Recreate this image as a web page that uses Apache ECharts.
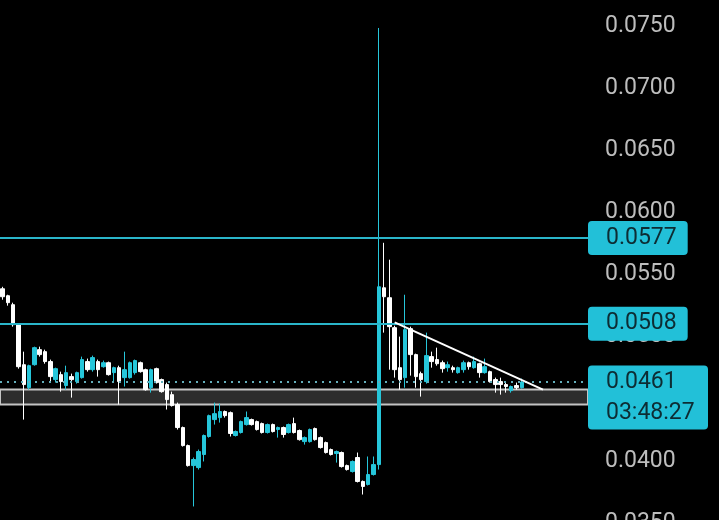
<!DOCTYPE html>
<html>
<head>
<meta charset="utf-8">
<script src="https://cdn.jsdelivr.net/npm/echarts@6/dist/echarts.min.js"></script>
<style>
  html, body { margin: 0; padding: 0; background: #000; }
  #chart { width: 719px; height: 520px; }
</style>
</head>
<body>
<div id="chart"></div>
<script>
// candles (open / close / low / high)
const opens = [
  0.05361, 0.05305, 0.05233, 0.05072, 0.04750, 0.04565, 0.04750, 0.04871, 0.04855, 0.04775,
  0.04630, 0.04670, 0.04582, 0.04654, 0.04614, 0.04646, 0.04775, 0.04710, 0.04775, 0.04734,
  0.04766, 0.04686, 0.04726, 0.04646, 0.04646, 0.04686, 0.04766, 0.04710, 0.04565, 0.04718,
  0.04630, 0.04590, 0.04509, 0.04429, 0.04244, 0.04099, 0.03938, 0.03922, 0.04027, 0.04172,
  0.04308, 0.04324, 0.04373, 0.04364, 0.04180, 0.04204, 0.04268, 0.04308, 0.04292, 0.04276,
  0.04204, 0.04268, 0.04228, 0.04244, 0.04204, 0.04276, 0.04220, 0.04131, 0.04131, 0.04236,
  0.04163, 0.04123, 0.04067, 0.04035, 0.04043, 0.03938, 0.03890, 0.04003, 0.03810, 0.03786,
  0.03866, 0.03946, 0.05369, 0.05289, 0.05048, 0.04726, 0.04646, 0.05040, 0.04831, 0.04678,
  0.04614, 0.04815, 0.04791, 0.04766, 0.04726, 0.04726, 0.04686, 0.04710, 0.04766, 0.04726,
  0.04758, 0.04686, 0.04694, 0.04630, 0.04614, 0.04590, 0.04541, 0.04582, 0.04565
];
const closes = [
  0.05297, 0.05249, 0.05072, 0.04734, 0.04590, 0.04742, 0.04887, 0.04831, 0.04775, 0.04654,
  0.04718, 0.04614, 0.04686, 0.04630, 0.04686, 0.04791, 0.04710, 0.04807, 0.04710, 0.04766,
  0.04670, 0.04726, 0.04614, 0.04710, 0.04766, 0.04783, 0.04694, 0.04549, 0.04710, 0.04606,
  0.04533, 0.04469, 0.04421, 0.04244, 0.04099, 0.03938, 0.03987, 0.04051, 0.04180, 0.04340,
  0.04356, 0.04373, 0.04340, 0.04196, 0.04212, 0.04292, 0.04324, 0.04268, 0.04228, 0.04204,
  0.04268, 0.04212, 0.04244, 0.04188, 0.04268, 0.04204, 0.04147, 0.04163, 0.04228, 0.04147,
  0.04083, 0.04043, 0.04027, 0.04051, 0.03930, 0.03906, 0.03971, 0.03810, 0.03770, 0.03866,
  0.03946, 0.05377, 0.05297, 0.05056, 0.04710, 0.04630, 0.05032, 0.04831, 0.04654, 0.04630,
  0.04823, 0.04775, 0.04758, 0.04718, 0.04750, 0.04710, 0.04726, 0.04766, 0.04734, 0.04775,
  0.04686, 0.04734, 0.04614, 0.04590, 0.04590, 0.04574, 0.04574, 0.04565, 0.04610
];
const lows = [
  0.05273, 0.05225, 0.05056, 0.04718, 0.04308, 0.04549, 0.04742, 0.04815, 0.04758, 0.04614,
  0.04606, 0.04533, 0.04549, 0.04485, 0.04598, 0.04638, 0.04694, 0.04694, 0.04654, 0.04726,
  0.04662, 0.04614, 0.04429, 0.04574, 0.04638, 0.04670, 0.04686, 0.04541, 0.04525, 0.04598,
  0.04525, 0.04389, 0.04413, 0.04228, 0.04091, 0.03930, 0.03609, 0.03906, 0.03971, 0.04163,
  0.04268, 0.04284, 0.04324, 0.04172, 0.04172, 0.04196, 0.04260, 0.04260, 0.04220, 0.04196,
  0.04196, 0.04204, 0.04163, 0.04163, 0.04196, 0.04196, 0.04139, 0.04107, 0.04123, 0.04139,
  0.04075, 0.04035, 0.04019, 0.03962, 0.03922, 0.03898, 0.03882, 0.03802, 0.03705, 0.03778,
  0.03858, 0.03906, 0.05008, 0.04710, 0.04646, 0.04549, 0.04565, 0.04662, 0.04565, 0.04493,
  0.04598, 0.04726, 0.04742, 0.04686, 0.04694, 0.04686, 0.04678, 0.04686, 0.04710, 0.04718,
  0.04646, 0.04678, 0.04606, 0.04525, 0.04509, 0.04525, 0.04525, 0.04549, 0.04557
];
const highs = [
  0.05377, 0.05313, 0.05249, 0.05080, 0.04855, 0.04750, 0.04895, 0.04895, 0.04871, 0.04791,
  0.04726, 0.04694, 0.04742, 0.04678, 0.04694, 0.04815, 0.04799, 0.04823, 0.04791, 0.04783,
  0.04775, 0.04734, 0.04742, 0.04855, 0.04775, 0.04791, 0.04775, 0.04718, 0.04718, 0.04726,
  0.04638, 0.04606, 0.04533, 0.04445, 0.04252, 0.04107, 0.04003, 0.04067, 0.04188, 0.04348,
  0.04445, 0.04437, 0.04381, 0.04373, 0.04220, 0.04300, 0.04373, 0.04316, 0.04300, 0.04284,
  0.04276, 0.04276, 0.04252, 0.04252, 0.04276, 0.04324, 0.04228, 0.04172, 0.04236, 0.04244,
  0.04172, 0.04131, 0.04075, 0.04059, 0.04051, 0.03946, 0.03979, 0.04043, 0.03818, 0.04011,
  0.04011, 0.07460, 0.05731, 0.05595, 0.05064, 0.04976, 0.05313, 0.05056, 0.04839, 0.04694,
  0.05008, 0.04855, 0.04887, 0.04783, 0.04775, 0.04742, 0.04734, 0.04783, 0.04775, 0.04815,
  0.04766, 0.04799, 0.04702, 0.04646, 0.04646, 0.04614, 0.04582, 0.04606, 0.04638
];

// empty slots on the right after the last candle
const slotCount = 111;
const categories = [];
for (let i = 0; i < slotCount; i++) {
  categories.push(String(i));
}

const yTicks = { min: 0.035, max: 0.075, step: 0.005 };
const levels = [0.0577, 0.0508];
const lastPrice = 0.0461;
const countdown = '03:48:27';
const zone = [0.0455, 0.0443];
const trend = [[74, 0.0509], [102, 0.0455]];

const UP = '#26c6da';
const DOWN = '#ffffff';
const LINE = '#2ab5ca';
const BOX = '#22c0d8';
const BOX_TEXT = '#0d2c33';
const FONT = 'Roboto';

const candles = opens.map((o, i) => [o, closes[i], lows[i], highs[i]]);

const levelLabel = {
  show: true,
  position: 'end',
  distance: 0,
  formatter: p => p.value.toFixed(4),
  backgroundColor: BOX,
  color: BOX_TEXT,
  fontFamily: FONT,
  fontSize: 23,
  lineHeight: 26,
  padding: [5, 11, 3, 18],
  borderRadius: 4
};

const priceTag = {
  backgroundColor: BOX,
  color: BOX_TEXT,
  fontFamily: FONT,
  fontSize: 23,
  lineHeight: 31,
  width: 90,
  padding: [5, 12, 5, 18]
};

const chart = echarts.init(document.getElementById('chart'));
chart.setOption({
  backgroundColor: '#000',
  animation: false,
  grid: { left: 0, right: 131, top: 23, bottom: 0, outerBoundsMode: 'none', containLabel: false },
  xAxis: {
    type: 'category',
    data: categories,
    boundaryGap: true,
    show: false
  },
  yAxis: {
    type: 'value',
    position: 'right',
    min: yTicks.min,
    max: yTicks.max,
    interval: yTicks.step,
    scale: true,
    axisLine: { show: false },
    axisTick: { show: false },
    splitLine: { show: false },
    axisLabel: {
      color: '#bdbdbd',
      fontFamily: FONT,
      fontSize: 23,
      margin: 17,
      verticalAlign: 'top',
      lineHeight: 6,
      formatter: v => v.toFixed(4)
    }
  },
  series: [
    {
      type: 'candlestick',
      data: candles,
      barWidth: 4,
      itemStyle: {
        color: UP,
        color0: DOWN,
        borderColor: UP,
        borderColor0: DOWN,
        borderWidth: 1
      },
      markArea: {
        silent: true,
        itemStyle: {
          color: '#2d2d2d',
          borderColor: '#c4c4c4',
          borderWidth: 2
        },
        data: [[{ yAxis: zone[0] }, { yAxis: zone[1] }]]
      },
      markLine: {
        silent: true,
        symbol: 'none',
        precision: 4,
        data: [
          {
            yAxis: levels[0],
            lineStyle: { color: LINE, width: 2, type: 'solid' },
            label: levelLabel
          },
          {
            yAxis: levels[1],
            lineStyle: { color: LINE, width: 2, type: 'solid' },
            label: levelLabel
          },
          {
            yAxis: lastPrice,
            lineStyle: { color: '#63aebb', width: 2, type: [2, 5] },
            label: {
              show: true,
              position: 'end',
              distance: 0,
              formatter: '{gap| }\n{p|' + lastPrice.toFixed(4) + '}\n{t|' + countdown + '}',
              rich: {
                gap: { fontSize: 10, lineHeight: 31, color: 'transparent' },
                p: Object.assign({}, priceTag, { borderRadius: [4, 4, 0, 0] }),
                t: Object.assign({}, priceTag, { borderRadius: [0, 0, 4, 4] })
              }
            }
          },
          [
            { coord: [trend[0][0], trend[0][1]] },
            { coord: [trend[1][0], trend[1][1]] }
          ].map(p => Object.assign(p, {
            lineStyle: { color: '#ffffff', width: 2, type: 'solid' },
            label: { show: false }
          }))
        ]
      }
    }
  ]
});
</script>
</body>
</html>
